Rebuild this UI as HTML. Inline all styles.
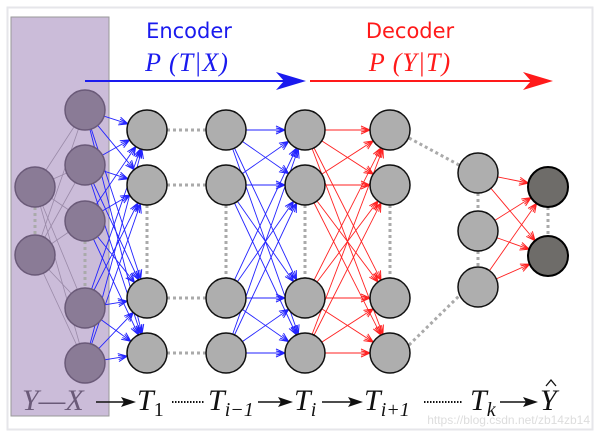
<!DOCTYPE html>
<html><head><meta charset="utf-8"><style>
html,body{margin:0;padding:0;background:#fff;}
svg{display:block;}
</style></head><body>
<svg width="600" height="436" viewBox="0 0 600 436" xmlns="http://www.w3.org/2000/svg">
<defs>
<marker id="hb" markerUnits="userSpaceOnUse" markerWidth="60" markerHeight="20" viewBox="-40 -10 60 20" refX="0" refY="0" orient="auto" overflow="visible">
<path d="M-29,-4 L-20,0 L-29,4 M-29,-2 L-20,0 L-29,2" fill="none" stroke="#2222ff" stroke-width="1"/></marker>
<marker id="hr" markerUnits="userSpaceOnUse" markerWidth="60" markerHeight="20" viewBox="-40 -10 60 20" refX="0" refY="0" orient="auto" overflow="visible">
<path d="M-29,-4 L-20,0 L-29,4 M-29,-2 L-20,0 L-29,2" fill="none" stroke="#ff2222" stroke-width="1"/></marker>
</defs>
<rect x="7.5" y="7.5" width="585" height="422" fill="#fff" stroke="#e6e6ea" stroke-width="2"/>
<rect x="11" y="17" width="98" height="399" fill="#cbbcd9" stroke="#999" stroke-width="1"/>

<g stroke="#9a8aa8" stroke-width="0.8">
<line x1="35" y1="187" x2="85" y2="110"/><line x1="35" y1="187" x2="85" y2="165"/><line x1="35" y1="187" x2="85" y2="221"/><line x1="35" y1="187" x2="85" y2="308"/><line x1="35" y1="187" x2="85" y2="363"/>
<line x1="35" y1="255" x2="85" y2="110"/><line x1="35" y1="255" x2="85" y2="165"/><line x1="35" y1="255" x2="85" y2="221"/><line x1="35" y1="255" x2="85" y2="308"/><line x1="35" y1="255" x2="85" y2="363"/>
</g>

<g stroke="#aaa" stroke-width="3" stroke-dasharray="3,3" fill="none">
<line x1="35" y1="207" x2="35" y2="235"/>
<line x1="85" y1="241" x2="85" y2="288"/>
<line x1="147" y1="205" x2="147" y2="278"/>
<line x1="226" y1="205" x2="226" y2="278"/>
<line x1="305" y1="205" x2="305" y2="278"/>
<line x1="390" y1="205" x2="390" y2="278"/>
<line x1="478" y1="193" x2="478" y2="211"/>
<line x1="478" y1="251" x2="478" y2="267"/>
<line x1="548" y1="207" x2="548" y2="236"/>
<line x1="167" y1="130" x2="206" y2="130"/>
<line x1="167" y1="185" x2="206" y2="185"/>
<line x1="167" y1="298" x2="206" y2="298"/>
<line x1="167" y1="353" x2="206" y2="353"/>
<line x1="409" y1="138" x2="459" y2="165"/>
<line x1="409" y1="345" x2="459" y2="296"/>
</g>

<g stroke="#2222ff" stroke-width="0.9" marker-end="url(#hb)">
<line x1="85" y1="110" x2="147" y2="130"/><line x1="85" y1="110" x2="147" y2="185"/><line x1="85" y1="110" x2="147" y2="298"/><line x1="85" y1="110" x2="147" y2="353"/>
<line x1="85" y1="165" x2="147" y2="130"/><line x1="85" y1="165" x2="147" y2="185"/><line x1="85" y1="165" x2="147" y2="298"/><line x1="85" y1="165" x2="147" y2="353"/>
<line x1="85" y1="221" x2="147" y2="130"/><line x1="85" y1="221" x2="147" y2="185"/><line x1="85" y1="221" x2="147" y2="298"/><line x1="85" y1="221" x2="147" y2="353"/>
<line x1="85" y1="308" x2="147" y2="130"/><line x1="85" y1="308" x2="147" y2="185"/><line x1="85" y1="308" x2="147" y2="298"/><line x1="85" y1="308" x2="147" y2="353"/>
<line x1="85" y1="363" x2="147" y2="130"/><line x1="85" y1="363" x2="147" y2="185"/><line x1="85" y1="363" x2="147" y2="298"/><line x1="85" y1="363" x2="147" y2="353"/>
<line x1="226" y1="130" x2="305" y2="130"/><line x1="226" y1="130" x2="305" y2="185"/><line x1="226" y1="130" x2="305" y2="298"/><line x1="226" y1="130" x2="305" y2="353"/>
<line x1="226" y1="185" x2="305" y2="130"/><line x1="226" y1="185" x2="305" y2="185"/><line x1="226" y1="185" x2="305" y2="298"/><line x1="226" y1="185" x2="305" y2="353"/>
<line x1="226" y1="298" x2="305" y2="130"/><line x1="226" y1="298" x2="305" y2="185"/><line x1="226" y1="298" x2="305" y2="298"/><line x1="226" y1="298" x2="305" y2="353"/>
<line x1="226" y1="353" x2="305" y2="130"/><line x1="226" y1="353" x2="305" y2="185"/><line x1="226" y1="353" x2="305" y2="298"/><line x1="226" y1="353" x2="305" y2="353"/>
</g>
<g stroke="#ff2222" stroke-width="0.9" marker-end="url(#hr)">
<line x1="305" y1="130" x2="390" y2="130"/><line x1="305" y1="130" x2="390" y2="185"/><line x1="305" y1="130" x2="390" y2="298"/><line x1="305" y1="130" x2="390" y2="353"/>
<line x1="305" y1="185" x2="390" y2="130"/><line x1="305" y1="185" x2="390" y2="185"/><line x1="305" y1="185" x2="390" y2="298"/><line x1="305" y1="185" x2="390" y2="353"/>
<line x1="305" y1="298" x2="390" y2="130"/><line x1="305" y1="298" x2="390" y2="185"/><line x1="305" y1="298" x2="390" y2="298"/><line x1="305" y1="298" x2="390" y2="353"/>
<line x1="305" y1="353" x2="390" y2="130"/><line x1="305" y1="353" x2="390" y2="185"/><line x1="305" y1="353" x2="390" y2="298"/><line x1="305" y1="353" x2="390" y2="353"/>
<line x1="478" y1="173" x2="548" y2="187"/><line x1="478" y1="173" x2="548" y2="256"/>
<line x1="478" y1="231" x2="548" y2="187"/><line x1="478" y1="231" x2="548" y2="256"/>
<line x1="478" y1="287" x2="548" y2="187"/><line x1="478" y1="287" x2="548" y2="256"/>
</g>

<g fill="#8a7b96" stroke="#6a5a78" stroke-width="1.5">
<circle cx="35" cy="187" r="20"/><circle cx="35" cy="255" r="20"/>
<circle cx="85" cy="110" r="20"/><circle cx="85" cy="165" r="20"/><circle cx="85" cy="221" r="20"/><circle cx="85" cy="308" r="20"/><circle cx="85" cy="363" r="20"/>
</g>
<g fill="#aeaeae" stroke="#111" stroke-width="1.5">
<circle cx="147" cy="130" r="20"/><circle cx="147" cy="185" r="20"/><circle cx="147" cy="298" r="20"/><circle cx="147" cy="353" r="20"/>
<circle cx="226" cy="130" r="20"/><circle cx="226" cy="185" r="20"/><circle cx="226" cy="298" r="20"/><circle cx="226" cy="353" r="20"/>
<circle cx="305" cy="130" r="20"/><circle cx="305" cy="185" r="20"/><circle cx="305" cy="298" r="20"/><circle cx="305" cy="353" r="20"/>
<circle cx="390" cy="130" r="20"/><circle cx="390" cy="185" r="20"/><circle cx="390" cy="298" r="20"/><circle cx="390" cy="353" r="20"/>
<circle cx="478" cy="173" r="20"/><circle cx="478" cy="231" r="20"/><circle cx="478" cy="287" r="20"/>
</g>
<g fill="#6e6c69" stroke="#000" stroke-width="2">
<circle cx="548" cy="187" r="20"/><circle cx="548" cy="256" r="20"/>
</g>

<line x1="85" y1="81" x2="285" y2="81" stroke="#1a1aee" stroke-width="2"/>
<path d="M306,81 L276,72 L284,81 L276,90 Z" fill="#1a1aee"/>
<line x1="310" y1="81" x2="532" y2="81" stroke="#ff1a1a" stroke-width="2"/>
<path d="M553,81 L523,72 L531,81 L523,90 Z" fill="#ff1a1a"/>

<text x="189" y="38" font-family="DejaVu Sans, Liberation Sans, sans-serif" font-size="21" fill="#1a1aee" text-anchor="middle">Encoder</text>
<text x="187" y="71" font-family="Liberation Serif, serif" font-size="26" font-style="italic" fill="#1a1aee" text-anchor="middle" letter-spacing="1">P (T|X)</text>
<text x="410" y="38" font-family="DejaVu Sans, Liberation Sans, sans-serif" font-size="21" fill="#ff1a1a" text-anchor="middle">Decoder</text>
<text x="410" y="71" font-family="Liberation Serif, serif" font-size="26" font-style="italic" fill="#ff1a1a" text-anchor="middle" letter-spacing="1">P (Y|T)</text>

<g font-family="Liberation Serif, serif" font-size="30" font-style="italic" fill="#111">
<text x="22" y="410" fill="#6a5a78">Y—X</text>
<text x="137" y="410">T<tspan font-size="20" font-style="normal" dy="6">1</tspan></text>
<text x="208" y="410">T<tspan font-size="20" dy="6">i−1</tspan></text>
<text x="294" y="410">T<tspan font-size="20" dy="6">i</tspan></text>
<text x="364" y="410">T<tspan font-size="20" dy="6">i+1</tspan></text>
<text x="470" y="410">T<tspan font-size="20" dy="6">k</tspan></text>
<text x="540" y="410">Y</text>
</g>
<path d="M546,386 L551,380 L556,386" fill="none" stroke="#111" stroke-width="1.3"/>
<g stroke="#111" stroke-width="1.5">
<line x1="96" y1="402" x2="125" y2="402"/><line x1="258" y1="402" x2="282" y2="402"/><line x1="322" y1="402" x2="352" y2="402"/><line x1="500" y1="402" x2="527" y2="402"/>
</g>
<g fill="#111">
<path d="M136,402 L121,397 L124,402 L121,407 Z"/><path d="M293,402 L278,397 L281,402 L278,407 Z"/><path d="M363,402 L348,397 L351,402 L348,407 Z"/><path d="M538,402 L523,397 L526,402 L523,407 Z"/>
</g>
<g stroke="#111" stroke-width="2" stroke-dasharray="1.5,1.5">
<line x1="172" y1="402" x2="204" y2="402"/><line x1="424" y1="402" x2="462" y2="402"/>
</g>
<text x="590" y="424" font-family="Liberation Sans, sans-serif" font-size="12" fill="#ddd" text-anchor="end">https://blog.csdn.net/zb14zb14</text>
</svg>
</body></html>
